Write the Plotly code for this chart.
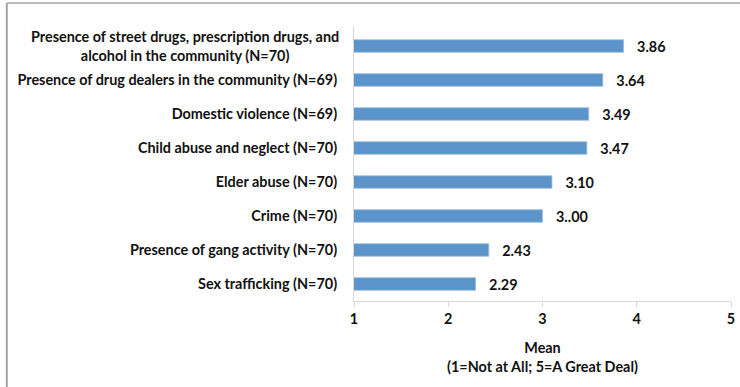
import plotly.graph_objects as go

categories = [
    "Presence of street drugs, prescription drugs, and<br>alcohol in the community (N=70)",
    "Presence of drug dealers in the community (N=69)",
    "Domestic violence (N=69)",
    "Child abuse and neglect (N=70)",
    "Elder abuse (N=70)",
    "Crime (N=70)",
    "Presence of gang activity (N=70)",
    "Sex trafficking (N=70)",
]
means = [3.86, 3.64, 3.49, 3.47, 3.10, 3.00, 2.43, 2.29]
labels = ["3.86", "3.64", "3.49", "3.47", "3.10", "3..00", "2.43", "2.29"]
tick_vals = [1, 2, 3, 4, 5]

FONT = "Lato, 'Open Sans', sans-serif"
BAR = "#5b94ca"
TXT = "#111111"
SIZE = 14.4

fig = go.Figure()
fig.add_trace(go.Bar(
    y=categories,
    x=means,
    orientation="h",
    marker=dict(color=BAR, line=dict(color="#9dbde0", width=0.8)),
    text=["\u00a0\u00a0\u00a0" + t for t in labels],
    textposition="outside",
    constraintext="none",
    textfont=dict(family=FONT, size=SIZE, color=TXT, weight="bold"),
    cliponaxis=False,
    width=0.37,
))

# first category: two-line label, centre aligned (as in the original)
ticktext = [""] + categories[1:]
fig.add_annotation(
    x=0, xref="paper", y=categories[0], yref="y",
    xanchor="right", xshift=-13, yanchor="middle",
    text=categories[0], align="center", showarrow=False,
    font=dict(family=FONT, size=SIZE, color=TXT, weight="bold"),
)

# outer frame lines (left and top) like the source image
fig.add_shape(type="line", xref="paper", yref="paper",
              x0=-0.921, x1=-0.921, y0=1.084, y1=-0.4,
              line=dict(color="#a0a4a8", width=2))
fig.add_shape(type="line", xref="paper", yref="paper",
              x0=-0.921, x1=1.1, y0=1.084, y1=1.084,
              line=dict(color="#b8babc", width=2))

fig.update_layout(
    width=740, height=387,
    margin=dict(l=354, r=5, t=26, b=86),
    plot_bgcolor="white",
    paper_bgcolor="white",
    showlegend=False,
    font=dict(family=FONT, size=SIZE, color=TXT, weight="bold"),
    xaxis=dict(
        range=[1, 5],
        tickvals=tick_vals,
        showgrid=False,
        zeroline=False,
        showline=True,
        linecolor="#d9d9d9",
        linewidth=1,
        ticks="outside",
        ticklen=5,
        tickcolor="#d9d9d9",
        tickfont=dict(family=FONT, size=SIZE, color=TXT, weight="bold"),
        title=dict(text="Mean<br>(1=Not at All; 5=A Great Deal)",
                   font=dict(family=FONT, size=SIZE, color=TXT, weight="bold"),
                   standoff=16),
    ),
    yaxis=dict(
        autorange="reversed",
        tickvals=categories,
        ticktext=ticktext,
        showgrid=False,
        showline=True,
        linecolor="#d9d9d9",
        ticks="",
        ticklabelstandoff=13,
        tickfont=dict(family=FONT, size=SIZE, color=TXT, weight="bold"),
    ),
)

fig.write_html("out.html", config={"displayModeBar": False},
               post_script="document.body.style.margin='0';")
